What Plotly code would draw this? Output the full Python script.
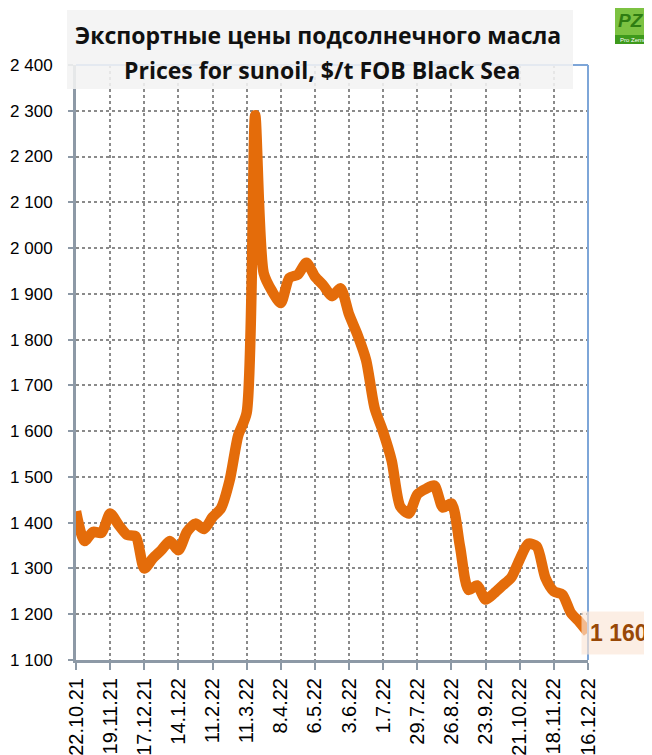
import pandas as pd
import plotly.graph_objects as go

# ---- data ----
start_date = "2021-10-22"
n_weeks = 61
prices = [1425, 1360, 1380, 1378, 1420, 1395, 1373, 1370, 1300, 1322,
          1340, 1360, 1340, 1380, 1398, 1386, 1412, 1432, 1492, 1590,
          1640, 2290, 1945, 1905, 1880, 1935, 1942, 1968, 1938, 1918,
          1895, 1912, 1855, 1810, 1755, 1650, 1598, 1535, 1435, 1420,
          1462, 1474, 1481, 1433, 1442, 1348, 1253, 1263, 1232, 1246,
          1263, 1280, 1320, 1354, 1348, 1280, 1250, 1243, 1203, 1183,
          1160]
x_tick_labels = ["22.10.21", "19.11.21", "17.12.21", "14.1.22", "11.2.22",
                 "11.3.22", "8.4.22", "6.5.22", "3.6.22", "1.7.22",
                 "29.7.22", "26.8.22", "23.9.22", "21.10.22", "18.11.22",
                 "16.12.22"]
y_tick_vals = [1100, 1200, 1300, 1400, 1500, 1600, 1700, 1800, 1900,
               2000, 2100, 2200, 2300, 2400]
y_tick_labels = ["1 100", "1 200", "1 300", "1 400", "1 500", "1 600",
                 "1 700", "1 800", "1 900", "2 000", "2 100", "2 200",
                 "2 300", "2 400"]
title_ru = "Экспортные цены подсолнечного масла"
title_en = "Prices for sunoil, $/t FOB Black Sea"
last_label = "1 160"

dates = pd.date_range(start_date, periods=n_weeks, freq="7D")
tick_dates = dates[::4]

# ---- geometry (page body has an 8px margin) ----
OFF = 8
W, H = 652 - OFF, 755 - OFF
PL, PR, PT, PB = 76, 588, 65, 660          # plot area in window pixels
ML, MR, MT, MB = PL - OFF, W - (PR - OFF), PT - OFF, H - (PB - OFF)
PW, PH = PR - PL, PB - PT


def px(xp):
    return (xp - PL) / PW


def py(yp):
    return (PB - yp) / PH


ORANGE = "#E46C0A"
AXIS_GREY = "#8d99a6"
GRID = "#8a8a8a"
BLUE = "#7ea6d8"

fig = go.Figure()
fig.add_trace(go.Scatter(
    x=dates, y=prices, mode="lines",
    line=dict(color=ORANGE, width=10.5, shape="spline", smoothing=0.7),
    hoverinfo="skip", showlegend=False,
))

fig.update_layout(
    width=W, height=H,
    margin=dict(l=ML, r=MR, t=MT, b=MB, pad=0, autoexpand=False),
    paper_bgcolor="white", plot_bgcolor="white",
    showlegend=False,
    font=dict(family="Liberation Sans, Arial, sans-serif", color="#000"),
)
fig.update_xaxes(
    range=[dates[0], dates[-1]],
    tickvals=tick_dates, ticktext=x_tick_labels, tickangle=-90,
    tickfont=dict(size=20, color="#000"),
    showline=True, linecolor=AXIS_GREY, linewidth=3,
    ticks="outside", ticklen=7, tickwidth=2, tickcolor=AXIS_GREY,
    showgrid=True, gridcolor=GRID, gridwidth=1.5, griddash="dot",
    zeroline=False, automargin=False,
)
fig.update_yaxes(
    range=[1100, 2400],
    tickvals=y_tick_vals, ticktext=y_tick_labels,
    tickfont=dict(size=17, color="#000"),
    showline=True, linecolor=AXIS_GREY, linewidth=3,
    ticks="outside", ticklen=5, tickwidth=2, tickcolor=AXIS_GREY,
    ticklabelstandoff=12,
    showgrid=True, gridcolor=GRID, gridwidth=1.5, griddash="dot",
    zeroline=False, automargin=False,
)

shapes = []
# top and right blue border of the plot area
shapes.append(dict(type="line", xref="paper", yref="paper", x0=0, x1=1, y0=1, y1=1,
                   line=dict(color=BLUE, width=2), layer="above"))
shapes.append(dict(type="line", xref="paper", yref="paper", x0=1, x1=1, y0=0, y1=1,
                   line=dict(color=BLUE, width=2), layer="above"))
# title box
shapes.append(dict(type="rect", xref="paper", yref="paper",
                   x0=px(67), x1=px(573), y0=py(89), y1=py(10),
                   fillcolor="rgba(242,242,242,0.88)", line=dict(width=0), layer="above"))
# outer chart border (black) top/left
shapes.append(dict(type="line", xref="paper", yref="paper", x0=px(4), x1=px(616),
                   y0=py(7), y1=py(7), line=dict(color="#000", width=1.5), layer="above"))
shapes.append(dict(type="line", xref="paper", yref="paper", x0=px(4), x1=px(4),
                   y0=py(7), y1=py(760), line=dict(color="#000", width=1.5), layer="above"))
# logo
shapes.append(dict(type="rect", xref="paper", yref="paper", x0=px(615), x1=px(660),
                   y0=py(44), y1=py(6), fillcolor="#7cc242", line=dict(width=0), layer="above"))
shapes.append(dict(type="rect", xref="paper", yref="paper", x0=px(615), x1=px(660),
                   y0=py(44), y1=py(35), fillcolor="#3e9a1c", line=dict(width=0), layer="above"))
fig.update_layout(shapes=shapes)

annotations = [
    dict(xref="paper", yref="paper", x=px(318), y=py(35), text="<b>" + title_ru + "</b>",
         showarrow=False, xanchor="center", yanchor="middle",
         font=dict(family="Open Sans, sans-serif", size=23, color="#111")),
    dict(xref="paper", yref="paper", x=px(322), y=py(70), text="<b>" + title_en + "</b>",
         showarrow=False, xanchor="center", yanchor="middle",
         font=dict(family="Open Sans, sans-serif", size=23, color="#111")),
    dict(x=dates[-1], y=prices[-1], xref="x", yref="y", text="<b>" + last_label + "</b>",
         showarrow=False, xanchor="left", yanchor="middle", xshift=-7,
         bgcolor="rgba(251,229,214,0.65)", borderpad=8,
         font=dict(family="Liberation Sans, Arial, sans-serif", size=23, color="#984807")),
    dict(xref="paper", yref="paper", x=px(631), y=py(20), text="<b><i>PZ</i></b>",
         showarrow=False, xanchor="center", yanchor="middle",
         font=dict(family="Liberation Sans, Arial", size=19, color="#2f7d12")),
    dict(xref="paper", yref="paper", x=px(633), y=py(40), text="Pro Zerno",
         showarrow=False, xanchor="center", yanchor="middle",
         font=dict(family="Liberation Sans, Arial", size=6, color="#ffffff")),
]
fig.update_layout(annotations=annotations)

fig.write_html("out.html")
